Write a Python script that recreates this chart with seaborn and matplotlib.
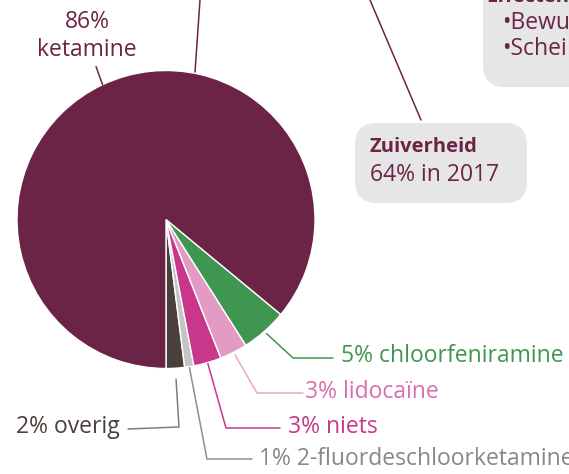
import numpy as np
import matplotlib.pyplot as plt
import seaborn as sns
from matplotlib.patches import FancyBboxPatch

# samenstelling ketaminemonsters (%)
substances = ["overig", "2-fluordeschloorketamine", "niets", "lidocaïne",
              "chloorfeniramine", "ketamine"]
shares = [2, 1, 3, 3, 5, 86]

wedge_colors = ["#4a403b", "#c4c4c4", "#c9378a", "#e39bc4", "#3f9650", "#6b2446"]
text_colors = ["#4a403b", "#8a8783", "#c9378a", "#dc6db0", "#3f9650", "#6b2446"]
line_colors = ["#7d7d7d", "#8f8f8f", "#c9378a", "#eaa6cc", "#3f9650", "#6b2446"]

purity_year = 2017
purity_pct = 64

sns.set_theme(style="white")
plt.rcParams["font.family"] = ["Open Sans", "DejaVu Sans"]
FS = 16.5

fig = plt.figure(figsize=(5.69, 4.74), dpi=100)
ax = fig.add_axes([0, 0, 1, 1])

cx, cy, R = 166, 219.5, 149
wedges, _ = ax.pie(shares, colors=wedge_colors, startangle=90, counterclock=False,
                   center=(cx, cy), radius=R, frame=True,
                   wedgeprops=dict(edgecolor="white", linewidth=1.0))
ax.set_xlim(0, 569)
ax.set_ylim(474, 0)
ax.set_aspect("equal")
ax.axis("off")

# leader lines: (start radius, bend point, end point, text x, alignment, text y)
layout = [
    (160, (179, 427), (128, 429), 120, "right", 427),
    (150, (207, 459), (252, 459), 259, "left", 459),
    (150, (226, 428), (280, 428), 288, "left", 427),
    (152, (257, 393), (303, 393), 305, "left", 392),
    (152, (293, 358), (333, 358), 341, "left", 356),
]
for w, name, val, tc, lc, (r0, bend, end, tx, ha, ty) in zip(
        wedges, substances, shares, text_colors, line_colors, layout):
    mid = np.deg2rad((w.theta1 + w.theta2) / 2)
    start = (cx + r0 * np.cos(mid), cy + r0 * np.sin(mid))
    ax.plot([start[0], bend[0], end[0]], [start[1], bend[1], end[1]],
            color=lc, lw=1.1, solid_joinstyle="miter")
    ax.text(tx, ty, f"{val}% {name}", color=tc, fontsize=FS, ha=ha, va="center")

# ketamine label
kw = wedges[-1]
mid = np.deg2rad((kw.theta1 + kw.theta2) / 2)
ax.plot([cx + R * np.cos(mid), cx + (R + 20) * np.cos(mid) + 2],
        [cy + R * np.sin(mid), cy + (R + 20) * np.sin(mid)],
        color="#6b2446", lw=1.1)
ax.text(87, 22, f"{shares[-1]}%", color="#6b2446", fontsize=FS, ha="center", va="center")
ax.text(87, 50, substances[-1], color="#6b2446", fontsize=FS, ha="center", va="center")

# connectors to surrounding boxes
ax.plot([200, 195], [0, 72], color="#6b2446", lw=1.1)
ax.plot([370, 421], [0, 120], color="#6b2446", lw=1.1)

# purity box
ax.add_patch(FancyBboxPatch((380, 148), 122, 30, boxstyle="round,pad=25,rounding_size=22",
                            fc="#e6e6e6", ec="none"))
ax.text(370, 147, "Zuiverheid", color="#6b2446", fontsize=14.5, fontweight="bold",
        ha="left", va="center")
ax.text(370, 175, f"{purity_pct}% in {purity_year}", color="#6b2446", fontsize=16.5,
        ha="left", va="center")

# effects box (cut off at the edge)
ax.add_patch(FancyBboxPatch((508, -60), 120, 122, boxstyle="round,pad=25,rounding_size=22",
                            fc="#e6e6e6", ec="none"))
ax.text(486, -3, "Effecten", color="#6b2446", fontsize=14.5, fontweight="bold",
        ha="left", va="center")
ax.text(502, 23, "•Bewu", color="#6b2446", fontsize=FS, ha="left", va="center")
ax.text(502, 49, "•Schei", color="#6b2446", fontsize=FS, ha="left", va="center")

fig.savefig("out.png", dpi=100)
